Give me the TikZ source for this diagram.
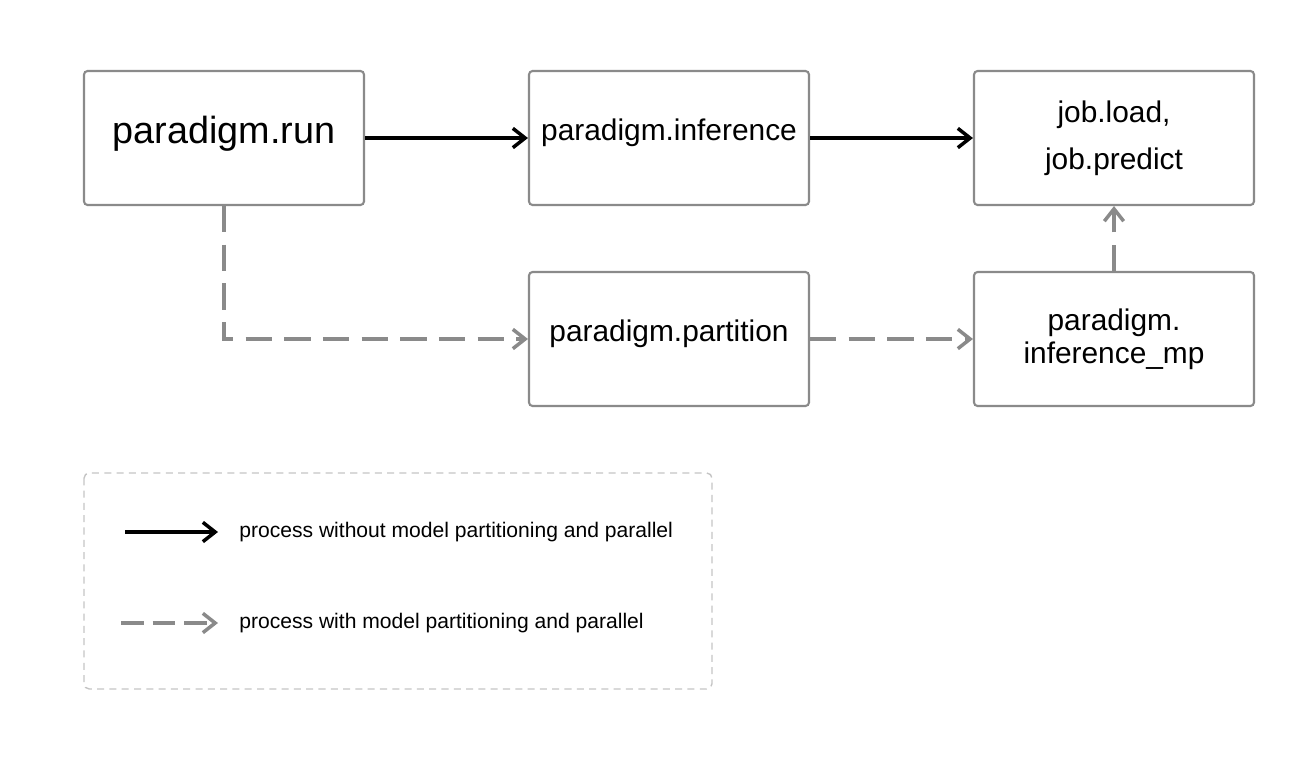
\documentclass[tikz,border=0pt]{standalone}
\usepackage{fontspec}
\setmainfont{Liberation Sans}
\usetikzlibrary{arrows.meta}
\definecolor{boxgray}{HTML}{8A8A8A}
\definecolor{legendgray}{HTML}{C4C4C4}

\begin{document}
\begin{tikzpicture}[x=0.02cm, y=-0.02cm,
    box/.style={draw=boxgray, line width=1.2pt, rounded corners=2pt, minimum width=5.6cm, minimum height=2.68cm, align=center, font=\fontsize{17}{19}\selectfont},
    lifted/.style={text depth=9.5pt},
    solidflow/.style={-{Straight Barb[length=7pt,width=11pt]}, line width=2pt, black},
    dashflow/.style={-{Straight Barb[length=7pt,width=11pt]}, line width=2pt, boxgray, dash pattern=on 15pt off 7pt}]
    \useasboundingbox (0,0) rectangle (1316,758);
    \node[box, lifted, font=\fontsize{21.5}{24}\selectfont] (run) at (224,138) {paradigm.run};
    \node[box, lifted] (infer) at (669,138) {paradigm.inference};
    \node[box, font=\fontsize{17}{27}\selectfont] (job) at (1114,138) {job.load,\\job.predict};
    \node[box, lifted] (part) at (669,339) {paradigm.partition};
    \node[box] (infermp) at (1114,339) {paradigm.\\inference\_mp};
    \draw[solidflow] (run) -- (infer);
    \draw[solidflow] (infer) -- (job);
    \draw[dashflow] (run.south) |- (part.west);
    \draw[dashflow] (part) -- (infermp);
    \draw[dashflow] (infermp) -- (job);
    \draw[legendgray, line width=0.8pt, rounded corners=3pt, dash pattern=on 4pt off 3pt] (84,473) rectangle (712,689);
    \coordinate (solidstart) at (125,532);
    \coordinate (solidend) at (218,532);
    \coordinate (dashstart) at (121,623);
    \coordinate (dashend) at (218,623);
    \draw[solidflow] (solidstart) -- (solidend);
    \draw[dashflow, dash pattern=on 13pt off 5pt] (dashstart) -- (dashend);
    \node[anchor=west, inner sep=0pt, font=\fontsize{12}{14}\selectfont] (solidtext) at (239,532) {process without model partitioning and parallel};
    \node[anchor=west, inner sep=0pt, font=\fontsize{12}{14}\selectfont] (dashtext) at (239,623) {process with model partitioning and parallel};
\end{tikzpicture}
\end{document}
